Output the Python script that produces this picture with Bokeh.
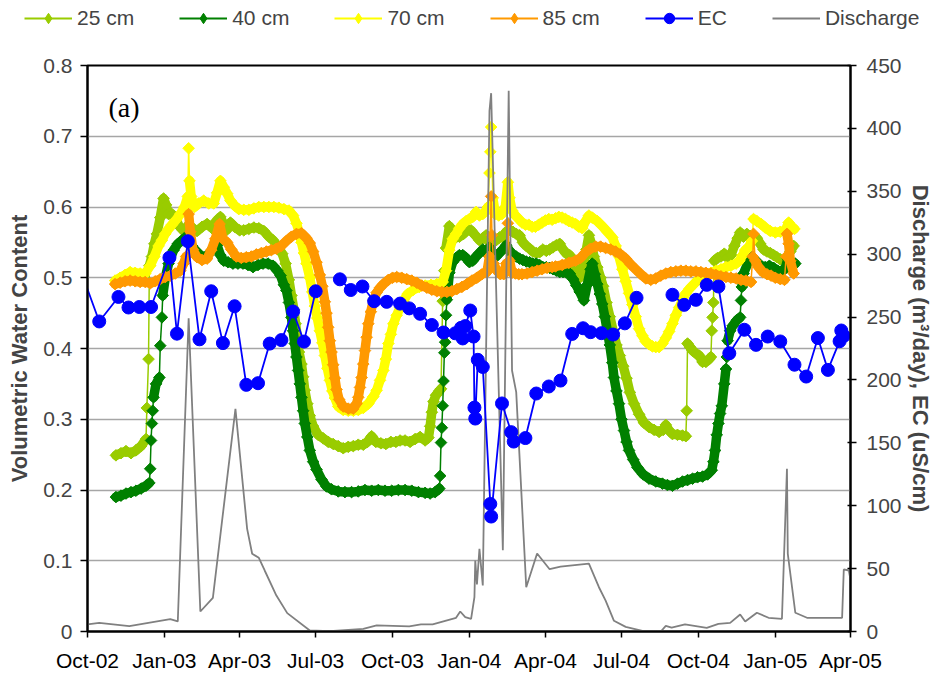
import numpy as np
import pandas as pd
from datetime import datetime
from bokeh.plotting import figure
from bokeh.models import (ColumnDataSource, Range1d, LinearAxis, FixedTicker, MonthsTicker,
                          DatetimeTickFormatter, CustomJSTickFormatter, Legend, LegendItem, Label)
from bokeh.embed import file_html
from bokeh.resources import INLINE

# Record day = days after 1 Oct 2002
START = pd.Timestamp("2002-10-01")

# Volumetric water content at 25 cm: (record day, VWC)
cm25 = [
    (34, .249), (40, .252), (46, .255), (52, .252), (58, .256), (64, .262), (70, .272), (71, .316),
    (73, .385), (74, .517), (77, .530), (80, .548), (83, .562), (87, .585), (91, .612), (94, .603),
    (97, .590), (101, .590), (106, .580), (111, .571), (116, .565), (121, .575), (127, .569),
    (131, .566), (137, .572), (143, .576), (149, .570), (154, .580), (159, .586), (163, .575),
    (167, .568), (171, .578), (176, .572), (182, .567), (187, .567), (193, .569), (199, .571),
    (205, .570), (211, .566), (217, .558), (222, .553), (228, .543), (233, .534), (237, .520),
    (241, .497), (244, .475), (247, .455), (249, .435), (251, .416), (253, .395), (256, .378),
    (258, .360), (260, .341), (263, .322), (266, .305), (270, .290), (276, .278), (282, .273),
    (288, .268), (294, .265), (300, .262), (306, .259), (312, .261), (318, .262), (324, .264),
    (330, .264), (335, .268), (340, .276), (345, .268), (351, .266), (357, .265), (363, .268),
    (369, .268), (374, .270), (380, .270), (386, .268), (392, .272), (398, .275), (404, .270),
    (408, .274), (410, .290), (412, .310), (414, .325), (417, .334), (421, .340), (423, .343),
    (425, .467), (427, .510), (429, .542), (433, .573), (437, .566), (441, .557), (445, .558),
    (450, .562), (455, .568), (459, .567), (464, .560), (469, .553), (473, .556), (477, .560),
    (481, .550), (485, .550), (489, .553), (493, .557), (497, .557), (501, .565), (505, .568),
    (509, .565), (513, .562), (517, .560), (521, .550), (525, .545), (529, .541), (533, .537),
    (537, .535), (541, .536), (545, .540), (549, .538), (553, .540), (557, .543), (561, .546),
    (565, .548), (569, .540), (573, .534), (577, .532), (581, .522), (585, .505), (589, .500),
    (593, .515), (597, .540), (600, .560), (603, .548), (606, .530), (610, .515), (614, .500),
    (617, .488), (621, .465), (625, .445), (629, .425), (633, .405), (637, .390), (641, .375),
    (645, .358), (649, .338), (654, .322), (660, .307), (666, .295), (672, .289), (678, .285),
    (684, .282), (689, .285), (692, .292), (696, .284), (700, .279), (706, .278), (712, .277),
    (716, .276), (717, .312), (718, .407), (721, .402), (724, .397), (728, .393), (732, .390),
    (736, .381), (740, .381), (744, .385), (746, .388), (747, .425), (748, .444), (749, .465),
    (750, .524), (754, .528), (758, .530), (762, .534), (766, .528), (770, .532), (774, .545),
    (778, .556), (781, .564), (785, .558), (789, .562), (793, .559), (797, .556), (801, .556),
    (805, .548), (809, .540), (813, .537), (817, .535), (821, .532), (825, .529), (829, .526),
    (833, .524), (837, .528), (841, .537), (845, .545),
]

# Volumetric water content at 40 cm
cm40 = [
    (34, .190), (40, .192), (46, .195), (52, .197), (58, .199), (64, .202), (70, .206), (74, .210),
    (75, .230), (76, .270), (77, .294), (78, .312), (79, .331), (82, .350), (86, .359), (87, .404),
    (89, .444), (90, .475), (93, .500), (97, .520), (103, .539), (108, .548), (113, .553),
    (118, .557), (121, .562), (125, .545), (129, .539), (135, .532), (141, .529), (146, .535),
    (151, .543), (155, .546), (159, .532), (163, .524), (168, .522), (174, .520), (180, .520),
    (186, .520), (192, .518), (198, .515), (204, .518), (210, .520), (216, .520), (222, .517),
    (227, .510), (231, .503), (235, .490), (238, .482), (241, .465), (244, .444), (246, .425),
    (248, .407), (250, .388), (252, .369), (254, .350), (256, .331), (258, .312), (260, .294),
    (263, .275), (266, .256), (270, .240), (274, .229), (280, .215), (286, .205), (292, .201),
    (300, .198), (308, .197), (316, .197), (324, .198), (332, .200), (340, .199), (348, .200),
    (356, .199), (364, .199), (372, .200), (380, .200), (388, .199), (396, .197), (404, .196),
    (410, .195), (416, .197), (421, .202), (422, .220), (423, .267), (424, .288), (425, .319),
    (426, .354), (427, .394), (428, .409), (429, .447), (430, .469), (433, .507), (437, .522),
    (441, .528), (445, .532), (449, .532), (453, .528), (457, .522), (461, .524), (465, .530),
    (469, .535), (473, .540), (477, .535), (481, .543), (485, .535), (489, .530), (493, .535),
    (497, .540), (501, .546), (505, .538), (509, .533), (513, .530), (517, .527), (521, .525),
    (525, .523), (529, .522), (533, .520), (537, .520), (541, .518), (545, .515), (549, .515),
    (553, .514), (557, .512), (561, .510), (565, .508), (569, .508), (573, .507), (577, .506),
    (581, .498), (585, .489), (589, .480), (594, .468), (598, .490), (602, .512), (604, .520),
    (607, .505), (610, .491), (613, .477), (616, .463), (619, .445), (622, .425), (625, .405),
    (628, .380), (630, .359), (633, .340), (636, .322), (639, .300), (642, .284), (645, .268),
    (648, .256), (653, .243), (658, .232), (665, .222), (672, .216), (680, .212), (688, .209),
    (694, .207), (700, .206), (706, .209), (712, .212), (718, .214), (724, .216), (730, .218),
    (736, .219), (742, .222), (747, .228), (749, .240), (751, .256), (753, .278), (755, .294),
    (757, .308), (759, .319), (762, .350), (764, .371), (765, .388), (766, .411), (769, .425),
    (772, .432), (777, .440), (781, .444), (782, .468), (783, .487), (785, .506), (790, .520),
    (795, .529), (800, .524), (805, .518), (811, .515), (816, .517), (821, .514), (826, .510),
    (831, .510), (835, .513), (838, .527), (843, .522), (847, .520),
]

# Volumetric water content at 70 cm
cm70 = [
    (33, .496), (39, .500), (45, .504), (51, .508), (57, .507), (63, .506), (69, .506), (75, .517),
    (80, .530), (85, .545), (89, .553), (93, .562), (97, .569), (101, .575), (106, .582),
    (111, .590), (116, .600), (120, .615), (121, .683), (122, .637), (124, .615), (128, .600),
    (133, .605), (139, .609), (145, .605), (151, .605), (155, .620), (159, .637), (163, .628),
    (167, .619), (171, .609), (176, .602), (181, .597), (187, .596), (193, .596), (199, .598),
    (205, .600), (211, .600), (217, .600), (223, .600), (229, .599), (235, .597), (241, .595),
    (246, .588), (250, .577), (253, .565), (256, .550), (259, .535), (262, .520), (266, .500),
    (269, .480), (272, .460), (275, .443), (278, .425), (281, .408), (284, .390), (287, .372),
    (290, .355), (293, .340), (296, .330), (300, .318), (306, .313), (312, .312), (318, .312),
    (324, .313), (330, .316), (336, .322), (342, .332), (346, .341), (350, .355), (354, .369),
    (357, .385), (360, .407), (363, .420), (366, .435), (370, .447), (374, .458), (378, .467),
    (383, .477), (390, .483), (397, .487), (404, .489), (411, .490), (418, .491), (425, .494),
    (429, .510), (433, .539), (437, .555), (441, .562), (445, .570), (449, .576), (453, .580),
    (457, .583), (461, .586), (465, .593), (469, .588), (473, .590), (477, .595), (479, .600),
    (481, .648), (482, .678), (483, .713), (485, .613), (488, .590), (492, .588), (496, .590),
    (500, .600), (503, .635), (505, .613), (508, .595), (512, .588), (516, .583), (520, .578),
    (524, .575), (528, .575), (532, .572), (536, .572), (540, .575), (544, .578), (548, .581),
    (552, .583), (556, .582), (560, .584), (564, .586), (568, .585), (572, .583), (576, .580),
    (580, .578), (584, .576), (588, .572), (592, .570), (596, .580), (600, .588), (604, .585),
    (610, .580), (616, .573), (622, .565), (628, .557), (632, .545), (636, .530), (640, .512),
    (644, .495), (648, .478), (652, .462), (656, .445), (660, .428), (664, .418), (668, .410),
    (672, .406), (676, .403), (680, .402), (684, .402), (688, .407), (692, .415), (696, .424),
    (700, .435), (704, .447), (708, .458), (712, .468), (716, .478), (720, .484), (724, .489),
    (728, .494), (732, .498), (736, .501), (740, .503), (746, .507), (752, .510), (758, .512),
    (764, .515), (770, .517), (776, .520), (780, .524), (784, .532), (787, .539), (791, .543),
    (795, .552), (797, .583), (801, .580), (806, .576), (811, .571), (817, .566), (823, .564),
    (829, .565), (835, .567), (839, .578), (843, .572), (846, .569),
]

# Volumetric water content at 85 cm
cm85 = [
    (33, .491), (39, .493), (45, .495), (51, .496), (57, .495), (63, .494), (69, .494), (75, .492),
    (81, .495), (87, .498), (93, .501), (99, .503), (105, .506), (111, .510), (115, .520),
    (118, .530), (121, .590), (123, .565), (126, .540), (131, .529), (137, .525), (143, .527),
    (148, .539), (153, .555), (158, .576), (162, .555), (167, .550), (172, .540), (178, .530),
    (184, .528), (190, .529), (196, .530), (202, .533), (208, .535), (214, .537), (220, .539),
    (226, .541), (232, .545), (238, .552), (244, .558), (250, .562), (256, .563), (262, .556),
    (266, .549), (270, .537), (274, .522), (278, .504), (281, .488), (284, .466), (286, .450),
    (288, .430), (290, .411), (292, .395), (294, .377), (296, .358), (298, .342), (301, .328),
    (306, .318), (312, .315), (318, .315), (322, .322), (324, .331), (326, .345), (328, .359),
    (330, .378), (332, .397), (334, .416), (336, .435), (339, .452), (342, .468), (346, .479),
    (350, .486), (354, .491), (360, .497), (365, .500), (370, .501), (376, .500), (382, .498),
    (388, .496), (394, .493), (400, .489), (406, .486), (412, .483), (418, .481), (424, .480),
    (430, .480), (436, .481), (442, .484), (448, .487), (454, .491), (460, .496), (466, .500),
    (472, .505), (478, .508), (481, .530), (483, .615), (484, .560), (486, .520), (490, .510),
    (494, .505), (498, .505), (501, .520), (503, .577), (505, .524), (508, .507), (512, .506),
    (516, .505), (520, .505), (526, .506), (532, .508), (538, .510), (544, .512), (550, .514),
    (556, .515), (560, .516), (568, .518), (576, .521), (584, .524), (590, .528), (596, .536),
    (602, .541), (608, .544), (614, .544), (620, .542), (626, .540), (632, .537), (638, .533),
    (644, .527), (650, .519), (656, .512), (662, .505), (668, .499), (674, .497), (680, .499),
    (686, .503), (692, .506), (698, .508), (704, .509), (710, .510), (716, .510), (722, .509),
    (728, .509), (734, .508), (740, .507), (746, .506), (752, .504), (758, .502), (764, .501),
    (770, .500), (776, .499), (782, .497), (788, .496), (794, .494), (796, .530), (797, .562),
    (799, .524), (803, .515), (808, .508), (813, .505), (818, .503), (823, .500), (829, .498),
    (834, .497), (836, .530), (837, .562), (839, .548), (841, .524), (845, .506),
]

# Electrical conductivity (uS/cm); NaN marks a break in sampling
ec = [
    (-11, 292), (14, 246.5), (37, 266), (49, 257.6), (62, 258), (76, 258), (98, 297.2),
    (107, 236.8), (120, 310.3), (134, 232.3), (148, 270.5), (162, 229.3), (176, 258.6),
    (190, 196.1), (204, 197.4), (218, 228.9), (232, 231.7), (246, 254.4), (259, 230.5),
    (273, 270.5), (287, float("nan")), (302, 280), (315, 271.5), (329, 274.3), (343, 262.6),
    (358, 262.1), (374, 260.7), (385, 256.9), (398, 252.6), (412, 243.7), (426, 237.7),
    (440, 237.1), (447, 241.4), (449, 233), (452, 242.8), (458, 255.2), (462, 234.5),
    (463, 178), (464, 169.3), (467, 216), (473, 210.3), (482, 101.4), (483, 91.4),
    (496, 181.3), (507, 158.5), (510, 151), (524, 153.8), (537, 189.2), (552, 194.8),
    (566, 199.5), (580, 236.6), (593, 241.1), (602, 238), (615, 237.2), (629, 236.1),
    (643, 245), (657, 265.3), (678, float("nan")), (700, 267.7), (714, 259.7), (728, 263.7),
    (741, 275.6), (755, 274.3), (768, 221.2), (786, 239.9), (800, 227.9), (814, 234.5),
    (829, 230.6), (846, 212.1), (860, 202.7), (874, 233.3), (886, 208), (900, 230.8),
    (902, 239.3), (905, 235),
]

# Discharge (m3/day)
discharge = [
    (0, 5.6), (14, 6.9), (50, 4.2), (99, 9.8), (108, 8), (121, 249), (135, 15.9), (150, 26.8),
    (177, 177), (191, 81.6), (197, 61.8), (205, 58.6), (212, 48.5), (226, 28.6), (239, 14.6),
    (266, 0.8), (290, 0.2), (330, 2.1), (346, 4.8), (385, 4), (399, 5.6), (413, 5.6),
    (441, 10.9), (446, 15.9), (452, 11.4), (459, 10.1), (463, 27.3), (464, 56.4), (466, 37.4),
    (469, 65.7), (473, 36.6), (481, 414), (483, 428), (497, 64.6), (504, 430), (508, 207.5),
    (513, 190.3), (525, 35.2), (538, 62), (553, 49.5), (566, 51.5), (600, 54), (612, 35.2),
    (620, 24.6), (630, 8.5), (644, 3.7), (664, 0.5), (686, 0), (692, 4.5), (699, 3),
    (715, 5.6), (741, 2.9), (755, 6.1), (769, 6.9), (781, 13.5), (787, 8), (801, 14.9),
    (815, 10.9), (831, 10.1), (837, 129.3), (838, 61.8), (847, 14.9), (861, 10.9),
    (903, 10.9), (905, 49.3), (911, 48.5), (918, 24), (922, 34),
]

vwc_ticks = [0, 0.1, 0.2, 0.3, 0.4, 0.5, 0.6, 0.7, 0.8]
right_ticks = [0, 50, 100, 150, 200, 250, 300, 350, 400, 450]

FONT = "Liberation Sans"
TICK_SIZE = "21px"
STEEP = 0.014   # VWC change per day above which readings are drawn as separate markers
LEGEND_H = 36   # height of the key strip above the chart

SOIL = [(cm25, "#99CC00", "25 cm"), (cm40, "#008000", "40 cm"),
        (cm70, "#FFFF00", "70 cm"), (cm85, "#FF9900", "85 cm")]
EC_COLOR = "#0000FF"
Q_COLOR = "#808080"


def to_dates(days):
    return START + pd.to_timedelta(np.asarray(days, dtype=float), unit="D")


def source(pairs):
    days, vals = zip(*pairs)
    return ColumnDataSource(dict(x=to_dates(days), y=np.asarray(vals, dtype=float)))


def band_source(pairs):
    """Dense stretches of readings as one thick band, broken where the value jumps quickly."""
    bd, bv = [], []
    for (d0, v0), (d1, v1) in zip(pairs[:-1], pairs[1:]):
        bd.append(d0)
        bv.append(v0)
        if abs(v1 - v0) / (d1 - d0) > STEEP:
            bd.append((d0 + d1) / 2)
            bv.append(np.nan)
    bd.append(pairs[-1][0])
    bv.append(pairs[-1][1])
    return ColumnDataSource(dict(x=to_dates(bd), y=np.asarray(bv, dtype=float)))


# ---------------- main chart ----------------
p = figure(
    width=935, height=679 - LEGEND_H, x_axis_type="datetime",
    x_range=Range1d(datetime(2002, 9, 30, 23), datetime(2005, 4, 1, 1)),
    y_range=Range1d(0, 0.8),
    output_backend="svg", toolbar_location=None,
    min_border_left=87, min_border_right=83, min_border_top=65 - LEGEND_H, min_border_bottom=48,
)
p.extra_y_ranges = {"right": Range1d(0, 450)}
p.background_fill_color = "white"
p.border_fill_color = "white"
p.outline_line_color = "black"
p.outline_line_width = 2

p.xgrid.grid_line_color = None
p.ygrid.grid_line_color = "#A6A6A6"
p.ygrid.grid_line_width = 1.5

# bottom date axis (MonthsTicker counts months from 0 = January)
xa = p.xaxis[0]
xa.ticker = MonthsTicker(months=[0, 3, 6, 9])
xa.formatter = DatetimeTickFormatter(
    days="%b-%y", months="%b-%y", years="%b-%y", strip_leading_zeros=False)
xa.major_tick_out = 6
xa.major_tick_in = 0
xa.minor_tick_line_color = None
xa.axis_line_width = 2
xa.major_tick_line_width = 1.5
xa.major_label_standoff = 11
xa.major_label_text_font = FONT
xa.major_label_text_font_size = TICK_SIZE
xa.major_label_text_color = "black"

# left VWC axis
ya = p.yaxis[0]
ya.ticker = FixedTicker(ticks=vwc_ticks)
ya.formatter = CustomJSTickFormatter(code="return tick == 0 ? '0' : tick.toFixed(1);")
ya.axis_label = "Volumetric Water Content"
ya.major_tick_out = 7
ya.major_tick_in = 0
ya.minor_tick_line_color = None
ya.axis_line_width = 2
ya.major_tick_line_width = 1.5
ya.major_label_standoff = 8
ya.major_label_text_font = FONT
ya.major_label_text_font_size = TICK_SIZE
ya.axis_label_text_font = FONT
ya.axis_label_text_font_size = "22px"
ya.axis_label_text_font_style = "bold"
ya.axis_label_standoff = 8

# right discharge / EC axis
ra = LinearAxis(y_range_name="right", ticker=FixedTicker(ticks=right_ticks),
                axis_label="Discharge (m³/day), EC (uS/cm)")
ra.major_tick_out = 6
ra.major_tick_in = 3
ra.minor_tick_line_color = None
ra.axis_line_width = 2
ra.major_tick_line_width = 1.5
ra.major_label_standoff = 10
ra.major_label_text_font = FONT
ra.major_label_text_font_size = TICK_SIZE
ra.axis_label_text_font = FONT
ra.axis_label_text_font_size = "22px"
ra.axis_label_text_font_style = "bold"
ra.axis_label_standoff = 3
p.add_layout(ra, "right")

for pairs, color, _ in SOIL:
    src = source(pairs)
    p.line("x", "y", source=band_source(pairs), line_color=color, line_width=9.5,
           line_join="round", line_cap="round")
    p.line("x", "y", source=src, line_color=color, line_width=1.5)
    p.scatter("x", "y", source=src, marker="square", angle=np.pi / 4, size=8.2,
              fill_color=color, line_color=color)

p.line("x", "y", source=source(discharge), y_range_name="right",
       line_color=Q_COLOR, line_width=1.8)

ec_src = source(ec)
p.line("x", "y", source=ec_src, y_range_name="right", line_color=EC_COLOR, line_width=1.8)
p.scatter("x", "y", source=ec_src, y_range_name="right", marker="circle", size=13,
          fill_color=EC_COLOR, line_color=EC_COLOR)

p.add_layout(Label(x=21, y=524, x_units="screen", y_units="screen", text="(a)",
                   text_font="Liberation Serif", text_font_size="28px",
                   text_baseline="alphabetic", text_color="black"))

# ---------------- key strip ----------------
lg = figure(width=935, height=LEGEND_H, x_range=Range1d(0, 1), y_range=Range1d(0, 1),
            output_backend="svg", toolbar_location=None, min_border=0,
            min_border_left=0, min_border_right=0, min_border_top=0, min_border_bottom=0,
            x_axis_type=None, y_axis_type=None, outline_line_color=None)
lg.grid.visible = False
# key swatches: a single reading placed outside the strip's visible range
key = ColumnDataSource(dict(x=[-5.0, -4.0], y=[-5.0, -5.0]))
items = []
for _, color, label in SOIL:
    ln = lg.line("x", "y", source=key, line_color=color, line_width=1.8)
    sc = lg.scatter("x", "y", source=key, marker="diamond", size=13,
                    fill_color=color, line_color=color)
    items.append(LegendItem(label=label, renderers=[ln, sc]))
ec_ln = lg.line("x", "y", source=key, line_color=EC_COLOR, line_width=1.8)
ec_sc = lg.scatter("x", "y", source=key, marker="circle", size=13,
                   fill_color=EC_COLOR, line_color=EC_COLOR)
items.append(LegendItem(label="EC", renderers=[ec_ln, ec_sc]))
q_ln = lg.line("x", "y", source=key, line_color=Q_COLOR, line_width=1.8)
items.append(LegendItem(label="Discharge", renderers=[q_ln]))

legend = Legend(items=items, orientation="horizontal", location=(24, LEGEND_H - 31),
                label_text_font=FONT, label_text_font_size="21px", label_standoff=5,
                label_height=26, glyph_width=48, glyph_height=26, spacing=45,
                padding=0, margin=0, border_line_color=None, background_fill_alpha=0)
lg.add_layout(legend)

# key strip and chart as two stacked roots
open("out.html", "w").write(file_html([lg, p], INLINE))
